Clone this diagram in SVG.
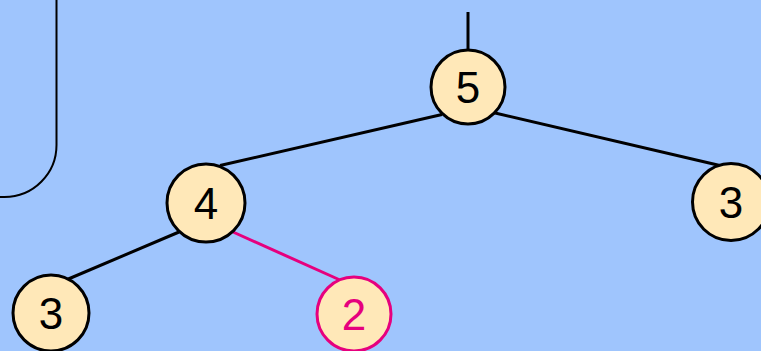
<svg xmlns="http://www.w3.org/2000/svg" width="761" height="351" viewBox="0 0 761 351">
<style>
.n{fill:#FFE8B8;stroke:#000;stroke-width:3}
.p{fill:#FFE8B8;stroke:#E6007E;stroke-width:3}
.t{font-family:"Liberation Sans",Arial,sans-serif;font-size:44px;text-anchor:middle;fill:#000}
.tp{font-family:"Liberation Sans",Arial,sans-serif;font-size:44px;text-anchor:middle;fill:#E6007E}
.e{stroke:#000;stroke-width:3;fill:none}
.ep{stroke:#E6007E;stroke-width:3;fill:none}
</style>
<rect x="0" y="0" width="761" height="351" fill="#9FC5FD"/>
<path d="M56.5,-5 V145 A52,52 0 0 1 4.5,197 H-5" fill="none" stroke="#000" stroke-width="2"/>
<g id="connectors">
<line class="e" x1="468" y1="12" x2="468" y2="50"/>
<line class="e" x1="442" y1="114.5" x2="220" y2="165.5"/>
<line class="e" x1="493" y1="112.5" x2="722" y2="166"/>
<line class="e" x1="179" y1="232" x2="66" y2="280"/>
<line class="ep" x1="233" y1="232" x2="340" y2="280"/>
</g>
<g id="n5"><circle class="n" cx="468" cy="87" r="37"/><text class="t" x="468" y="103">5</text></g>
<g id="n4"><circle class="n" cx="206" cy="203" r="39"/><text class="t" x="206" y="219">4</text></g>
<g id="n3r"><circle class="n" cx="731" cy="202" r="38.5"/><text class="t" x="731" y="218">3</text></g>
<g id="n3l"><circle class="n" cx="51" cy="313" r="38"/><text class="t" x="51" y="329">3</text></g>
<g id="n2"><circle class="p" cx="354" cy="314" r="37"/><text class="tp" x="354" y="330">2</text></g>
</svg>
